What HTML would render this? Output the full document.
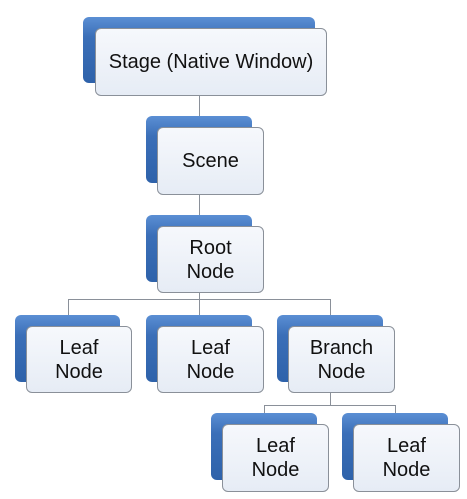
<!DOCTYPE html>
<html><head><style>
body{margin:0;width:467px;height:499px;background:#fff;position:relative;overflow:hidden;font-family:"Liberation Sans",sans-serif}
.b{position:absolute;border-radius:6px;background:linear-gradient(180deg,#5b8fd4 0%,#3b6fb8 30%,#2e62aa 100%)}
.f{position:absolute;border-radius:6px;background:linear-gradient(180deg,#f6f8fc,#e6ecf5);border:1px solid #8a9099;box-sizing:border-box;display:flex;align-items:center;justify-content:center;text-align:center;font-size:20px;line-height:24px;color:#111}
.l{position:absolute;background:#8a9099}
</style></head><body>
<div class="l" style="left:199px;top:96px;width:1px;height:20px"></div>
<div class="l" style="left:199px;top:195px;width:1px;height:20px"></div>
<div class="l" style="left:199px;top:293px;width:1px;height:7px"></div>
<div class="l" style="left:68px;top:299px;width:263px;height:1px"></div>
<div class="l" style="left:68px;top:299px;width:1px;height:16px"></div>
<div class="l" style="left:199px;top:299px;width:1px;height:16px"></div>
<div class="l" style="left:330px;top:299px;width:1px;height:16px"></div>
<div class="l" style="left:330px;top:393px;width:1px;height:12px"></div>
<div class="l" style="left:264px;top:405px;width:132px;height:1px"></div>
<div class="l" style="left:264px;top:405px;width:1px;height:8px"></div>
<div class="l" style="left:395px;top:405px;width:1px;height:8px"></div>

<div class="b" style="left:83px;top:17px;width:232px;height:66px"></div>
<div class="f" style="left:95px;top:28px;width:232px;height:68px">Stage (Native Window)</div>

<div class="b" style="left:146px;top:116px;width:106px;height:67px"></div>
<div class="f" style="left:157px;top:127px;width:107px;height:68px">Scene</div>

<div class="b" style="left:146px;top:215px;width:106px;height:67px"></div>
<div class="f" style="left:157px;top:226px;width:107px;height:67px">Root<br>Node</div>

<div class="b" style="left:15px;top:315px;width:105px;height:67px"></div>
<div class="f" style="left:26px;top:326px;width:106px;height:67px">Leaf<br>Node</div>
<div class="b" style="left:146px;top:315px;width:106px;height:67px"></div>
<div class="f" style="left:157px;top:326px;width:107px;height:67px">Leaf<br>Node</div>
<div class="b" style="left:277px;top:315px;width:106px;height:67px"></div>
<div class="f" style="left:288px;top:326px;width:107px;height:67px">Branch<br>Node</div>

<div class="b" style="left:211px;top:413px;width:106px;height:67px"></div>
<div class="f" style="left:222px;top:424px;width:107px;height:68px">Leaf<br>Node</div>
<div class="b" style="left:342px;top:413px;width:106px;height:67px"></div>
<div class="f" style="left:353px;top:424px;width:107px;height:68px">Leaf<br>Node</div>
</body></html>
